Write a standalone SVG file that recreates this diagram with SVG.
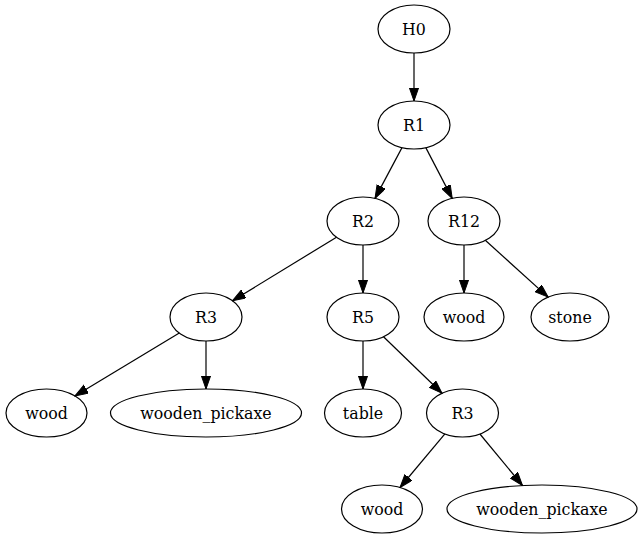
<svg xmlns="http://www.w3.org/2000/svg" width="643" height="539" viewBox="0 0 643 539">
<style>
.n ellipse{fill:none;stroke:#000;stroke-width:1.2}
.n text{font-family:"DejaVu Serif","Liberation Serif",serif;font-size:15.8px;text-anchor:middle;fill:#000}
#edges line{stroke:#000;stroke-width:1.2;marker-end:url(#ah)}
</style>
<defs>
<marker id="ah" markerUnits="userSpaceOnUse" markerWidth="14" markerHeight="10" refX="13.3" refY="4.67" orient="auto">
<path d="M0,0 L13.3,4.67 L0,9.33 z" fill="#000" stroke="#000" stroke-width="1"/>
</marker>
</defs>
<rect width="643" height="539" fill="#fff"/>
<g id="edges">
<line x1="414" y1="53" x2="414" y2="101"/>
<line x1="402" y1="147.6" x2="375" y2="198.4"/>
<line x1="425.8" y1="147.6" x2="452.2" y2="198.4"/>
<line x1="336.5" y1="237.2" x2="232.5" y2="300.8"/>
<line x1="363" y1="245" x2="363" y2="293"/>
<line x1="464" y1="245" x2="464" y2="293"/>
<line x1="485.3" y1="240.3" x2="548.1" y2="297.1"/>
<line x1="179.3" y1="333.1" x2="74.9" y2="395.9"/>
<line x1="206" y1="341" x2="206" y2="389"/>
<line x1="363" y1="341" x2="363" y2="389"/>
<line x1="383.5" y1="336.7" x2="442" y2="393.3"/>
<line x1="444.9" y1="433.9" x2="400" y2="487.5"/>
<line x1="479.9" y1="434" x2="522.5" y2="485.5"/>
</g>
<g id="H0" class="n"><ellipse cx="414" cy="29" rx="36" ry="24"/><text x="414" y="34.5">H0</text></g>
<g id="R1" class="n"><ellipse cx="414" cy="125" rx="36" ry="24"/><text x="414" y="130.5">R1</text></g>
<g id="R2" class="n"><ellipse cx="363" cy="221" rx="36" ry="24"/><text x="363" y="226.5">R2</text></g>
<g id="R12" class="n"><ellipse cx="464" cy="221" rx="36" ry="24"/><text x="464" y="226.5">R12</text></g>
<g id="R3a" class="n"><ellipse cx="206" cy="317" rx="36" ry="24"/><text x="206" y="322.5">R3</text></g>
<g id="R5" class="n"><ellipse cx="363" cy="317" rx="36" ry="24"/><text x="363" y="322.5">R5</text></g>
<g id="woodA" class="n"><ellipse cx="464" cy="317" rx="40" ry="24"/><text x="464" y="322.5">wood</text></g>
<g id="stone" class="n"><ellipse cx="570" cy="317" rx="39" ry="24"/><text x="570" y="322.5">stone</text></g>
<g id="woodB" class="n"><ellipse cx="46.5" cy="413" rx="40.5" ry="24"/><text x="46.5" y="418.5">wood</text></g>
<g id="wpA" class="n"><ellipse cx="206" cy="413" rx="95.5" ry="24"/><text x="206" y="418.5">wooden_pickaxe</text></g>
<g id="table" class="n"><ellipse cx="363" cy="413" rx="38.5" ry="24"/><text x="363" y="418.5">table</text></g>
<g id="R3b" class="n"><ellipse cx="462.5" cy="413" rx="36" ry="24"/><text x="462.5" y="418.5">R3</text></g>
<g id="woodC" class="n"><ellipse cx="382" cy="509" rx="40.5" ry="24"/><text x="382" y="514.5">wood</text></g>
<g id="wpB" class="n"><ellipse cx="542" cy="509" rx="95" ry="24"/><text x="542" y="514.5">wooden_pickaxe</text></g>
</svg>
